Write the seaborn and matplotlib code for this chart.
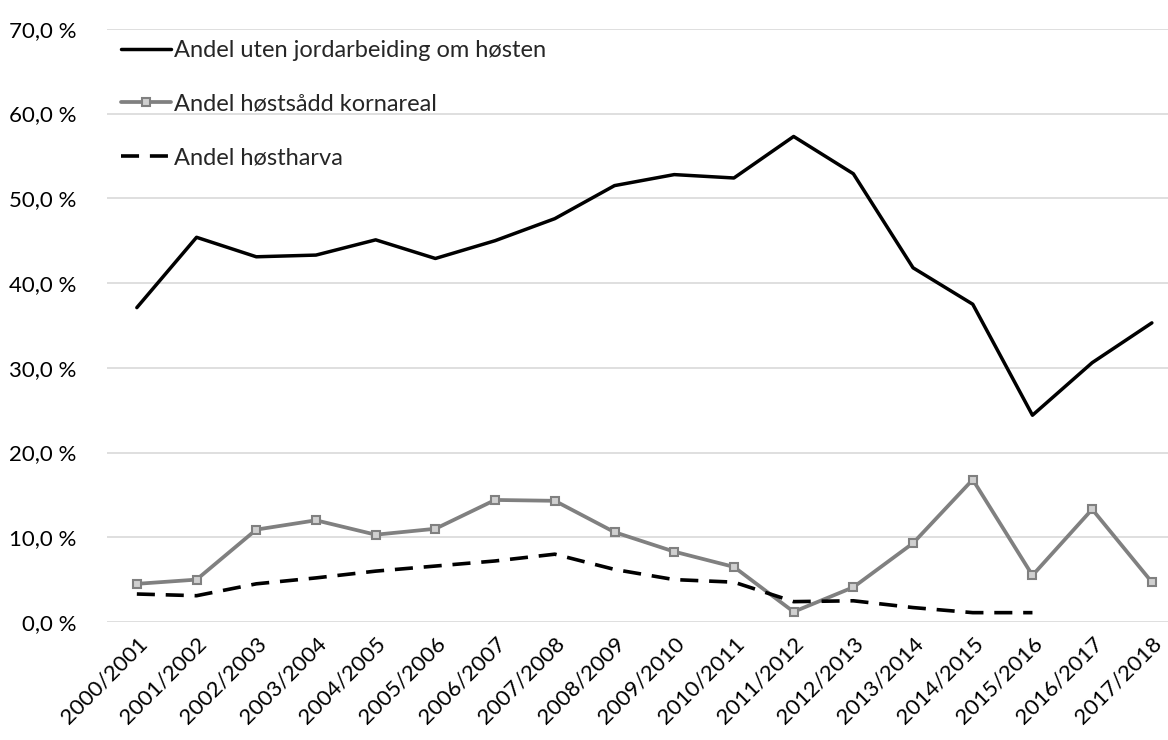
from matplotlib import pyplot as plt
from matplotlib.ticker import FuncFormatter
import pandas as pd
import seaborn as sns
import numpy as np

# sesonger
seasons = ['2000/2001', '2001/2002', '2002/2003', '2003/2004', '2004/2005',
           '2005/2006', '2006/2007', '2007/2008', '2008/2009', '2009/2010',
           '2010/2011', '2011/2012', '2012/2013', '2013/2014', '2014/2015',
           '2015/2016', '2016/2017', '2017/2018']

# andeler i prosent
uten_jordarbeiding = [37.1, 45.4, 43.1, 43.3, 45.1, 42.9, 45.0, 47.6, 51.5, 52.8,
                      52.4, 57.3, 52.9, 41.8, 37.5, 24.4, 30.6, 35.3]
hostsadd_korn = [4.5, 5.0, 10.9, 12.0, 10.3, 11.0, 14.4, 14.3, 10.6, 8.3,
                 6.5, 1.2, 4.1, 9.3, 16.8, 5.5, 13.3, 4.7]
hostharva = [3.3, 3.1, 4.5, 5.2, 6.0, 6.6, 7.2, 8.0, 6.2, 5.0,
             4.7, 2.4, 2.5, 1.7, 1.1, 1.1, np.nan, np.nan]

labels = ['Andel uten jordarbeiding om høsten', 'Andel høstsådd kornareal',
          'Andel høstharva']

df = pd.DataFrame({'pos': np.arange(len(seasons)),
                   labels[0]: uten_jordarbeiding,
                   labels[1]: hostsadd_korn,
                   labels[2]: hostharva})

sns.set_style('white')
plt.rcParams['font.family'] = ['Lato', 'DejaVu Sans']

fig, ax = plt.subplots(figsize=(11.68, 7.40), dpi=100)
fig.subplots_adjust(left=0.0916, right=1.0, top=0.961, bottom=0.1595)

sns.lineplot(data=df, x='pos', y=labels[0], ax=ax, color='black',
             linewidth=2.5, label=labels[0])
sns.lineplot(data=df, x='pos', y=labels[1], ax=ax, color='#808080',
             linewidth=2.7, marker='s', markersize=6,
             markerfacecolor='#d0d0d0', markeredgecolor='#808080',
             markeredgewidth=1.5, label=labels[1])
sns.lineplot(data=df, x='pos', y=labels[2], ax=ax, color='black',
             linewidth=2.6, linestyle=(0, (5, 3)), label=labels[2])

ax.set_ylim(0, 70)
ax.set_yticks(np.arange(0, 71, 10))
ax.yaxis.set_major_formatter(FuncFormatter(lambda v, p: f'{v:.1f} %'.replace('.', ',')))
ax.set_xlim(-0.5, 17.27)
ax.set_xticks(df['pos'])
ax.set_xticklabels(seasons, rotation=45, ha='right', rotation_mode='anchor')
ax.tick_params(axis='both', labelsize=16, colors='black', length=0)
ax.tick_params(axis='y', pad=22)
ax.tick_params(axis='x', pad=8)
ax.set_xlabel('')
ax.set_ylabel('')

ax.yaxis.grid(True, color='#d9d9d9', linewidth=1.2)
ax.xaxis.grid(False)
sns.despine(ax=ax, left=True, bottom=True, right=True, top=True)

ax.legend(loc='upper left', bbox_to_anchor=(0.0, 1.005), frameon=False,
          fontsize=17, labelspacing=1.38, handlelength=2.1, handletextpad=0.15,
          borderaxespad=0.2)

plt.savefig('out.png')
